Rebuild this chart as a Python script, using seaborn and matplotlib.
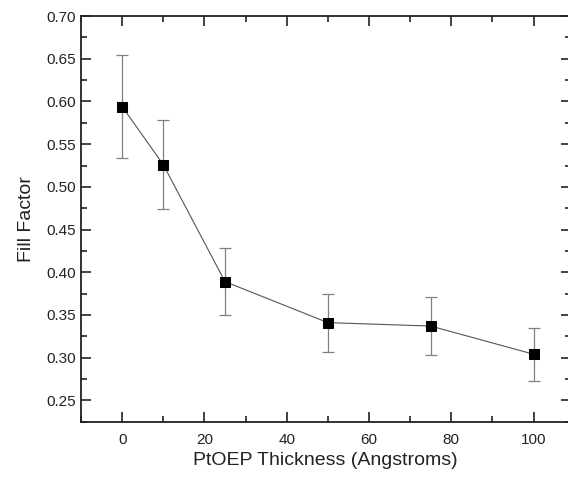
import numpy as np
import pandas as pd
import matplotlib
matplotlib.use("Agg")
import matplotlib.pyplot as plt
import seaborn as sns
from matplotlib.ticker import MultipleLocator

# thickness (Angstroms), fill factor and error bars
thickness = [0, 10, 25, 50, 75, 100]
fill_factor = [0.594, 0.526, 0.389, 0.341, 0.337, 0.304]
fill_err = [0.060, 0.052, 0.039, 0.034, 0.034, 0.031]

df = pd.DataFrame({"Thickness": thickness, "FF": fill_factor, "err": fill_err})

sns.set_style("ticks")
plt.rcParams["font.family"] = ["Liberation Sans", "DejaVu Sans"]

fig = plt.figure(figsize=(5.68, 4.80), dpi=100)
ax = fig.add_axes([0.1426, 0.1215, 0.862, 0.845])

# error bars first so the markers sit on top
ax.errorbar(df["Thickness"], df["FF"], yerr=df["err"], fmt="none",
            ecolor="#808080", elinewidth=0.9, capsize=4, capthick=0.9, zorder=2)
sns.lineplot(data=df, x="Thickness", y="FF", ax=ax, color="#555555", linewidth=0.8,
             marker="s", markersize=6.5, markerfacecolor="black", markeredgecolor="black",
             zorder=3)

ax.set_xlim(-10, 109)
ax.set_ylim(0.225, 0.70)
ax.xaxis.set_major_locator(MultipleLocator(20))
ax.xaxis.set_minor_locator(MultipleLocator(10))
ax.yaxis.set_major_locator(MultipleLocator(0.05))
ax.yaxis.set_minor_locator(MultipleLocator(0.025))
ax.yaxis.set_major_formatter(plt.FormatStrFormatter("%.2f"))

ax.tick_params(which="both", direction="in", top=True, right=True, colors="#222222",
               labelsize=11, labelcolor="#222222")
ax.tick_params(which="major", length=7, width=1.2)
ax.tick_params(which="minor", length=4, width=1.2)
ax.tick_params(axis="x", pad=8)
for s in ax.spines.values():
    s.set_linewidth(1.3)
    s.set_color("#222222")

ax.set_xlabel("PtOEP Thickness (Angstroms)", fontsize=14, color="#222222", labelpad=4)
ax.set_ylabel("Fill Factor", fontsize=14, color="#222222", labelpad=8)

fig.savefig("out.png", dpi=100)
